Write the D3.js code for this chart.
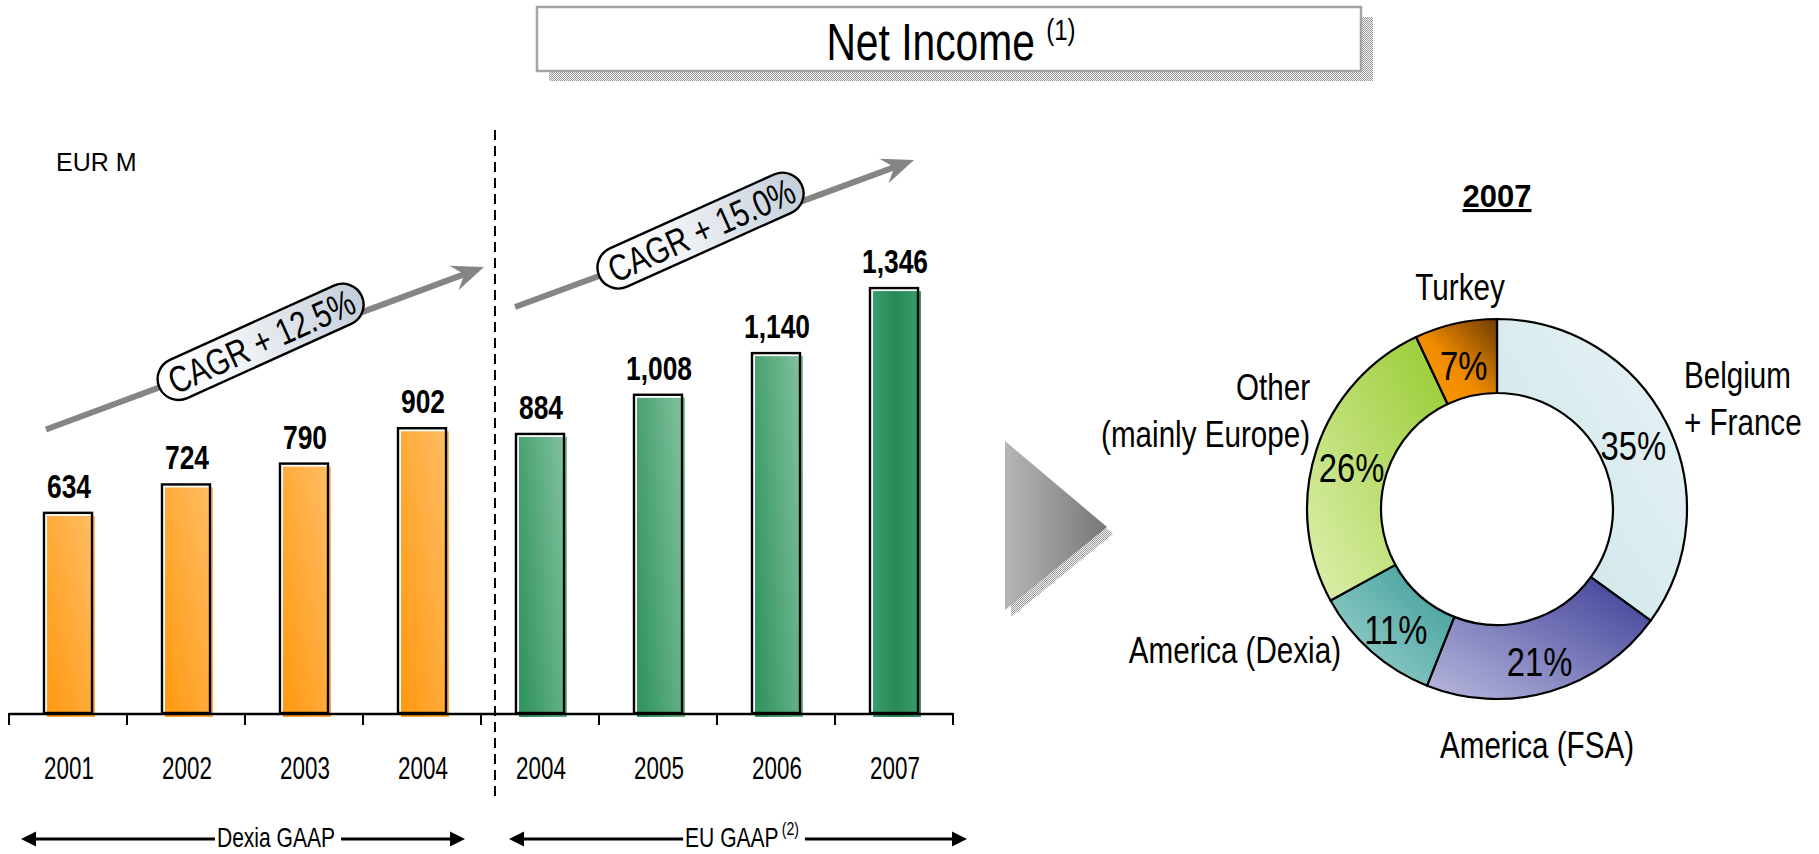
<!DOCTYPE html>
<html>
<head>
<meta charset="utf-8">
<script src="https://cdn.jsdelivr.net/npm/d3@7"></script>
<style>
  html, body { margin: 0; padding: 0; background: #fff; }
  svg { display: block; }
  text { font-family: "Liberation Sans", Arial, sans-serif; fill: #000; }
</style>
</head>
<body>
<svg id="chart" width="1819" height="854"></svg>
<script>
// ---- data ----------------------------------------------------------
const years       = ["2001", "2002", "2003", "2004", "2004", "2005", "2006", "2007"];
const netIncome   = [634, 724, 790, 902, 884, 1008, 1140, 1346];
const gaapBasis   = ["Dexia GAAP", "Dexia GAAP", "Dexia GAAP", "Dexia GAAP",
                     "EU GAAP", "EU GAAP", "EU GAAP", "EU GAAP"];
const basisNames  = ["Dexia GAAP", "EU GAAP"];
const basisNotes  = ["", "(2)"];
const cagrLabels  = ["CAGR + 12.5%", "CAGR + 15.0%"];

const regions      = ["Belgium + France", "America (FSA)", "America (Dexia)", "Other (mainly Europe)", "Turkey"];
const regionLines  = [["Belgium", "+ France"], ["America (FSA)"], ["America (Dexia)"], ["Other", "(mainly Europe)"], ["Turkey"]];
const regionShares = [35, 21, 11, 26, 7];

const titleText = "Net Income";
const titleNote = "(1)";
const unitText  = "EUR M";
const pieTitle  = "2007";

// ---- setup ---------------------------------------------------------
const svg = d3.select("#chart");
const defs = svg.append("defs");
const SX = 0.82;   // default horizontal squeeze giving the condensed face

// condensed text: placed at (x, y) and squeezed horizontally about that point
function ntext(parent, x, y, size, anchor, sx) {
  return parent.append("text")
    .attr("transform", `translate(${x},${y}) scale(${sx || SX},1)`)
    .attr("font-size", size).attr("text-anchor", anchor || "start");
}

function linGrad(id, x1, y1, x2, y2, stops) {
  const g = defs.append("linearGradient").attr("id", id)
    .attr("x1", x1).attr("y1", y1).attr("x2", x2).attr("y2", y2);
  stops.forEach(([o, c]) => g.append("stop").attr("offset", o).attr("stop-color", c));
}

// fine checker used for the hatched drop shadows
const pat = defs.append("pattern").attr("id", "checker")
  .attr("patternUnits", "userSpaceOnUse").attr("width", 2).attr("height", 2);
pat.append("rect").attr("width", 2).attr("height", 2).attr("fill", "#f4f4f4");
pat.append("rect").attr("width", 1).attr("height", 1).attr("fill", "#9a9a9a");
pat.append("rect").attr("x", 1).attr("y", 1).attr("width", 1).attr("height", 1).attr("fill", "#9a9a9a");

linGrad("gOrange", 0, 1, 1, 0, [[0, "#ff9810"], [1, "#ffbe64"]]);
linGrad("gGreen", 0, 0.75, 1, 0.25, [[0, "#33955f"], [1, "#7dbf9a"]]);
linGrad("gGreenDark", 0, 0, 1, 0, [[0, "#36a06c"], [0.45, "#2b8857"], [1, "#36a06c"]]);
linGrad("gPill", 0, 0, 1, 0, [[0, "#ffffff"], [0.35, "#f3f5f8"], [1, "#c4ceda"]]);
linGrad("gTri", 0, 0, 1, 0, [[0, "#b6b6b6"], [1, "#777777"]]);

const sliceGrads = [
  [[0, "#cbe4e8"], [1, "#e8f3f5"]],
  [[0, "#b8b8de"], [1, "#3c3c96"]],
  [[0, "#a4d6d2"], [1, "#389a95"]],
  [[0, "#dff0b0"], [1, "#96ca2e"]],
  [[0, "#ff9a00"], [0.45, "#f08c00"], [1, "#6e3a00"]]
];
sliceGrads.forEach((s, i) => linGrad("gSlice" + i, 0, 1, 1, 0, s));

// ---- title ---------------------------------------------------------
const tb = { x: 537, y: 7, w: 824, h: 64 };
svg.append("rect").attr("x", tb.x + 12).attr("y", tb.y + 10)
  .attr("width", tb.w).attr("height", tb.h).attr("fill", "url(#checker)");
svg.append("rect").attr("x", tb.x).attr("y", tb.y).attr("width", tb.w).attr("height", tb.h)
  .attr("fill", "#fff").attr("stroke", "#a6a6a6").attr("stroke-width", 2.5);
const tt = ntext(svg, tb.x + tb.w / 2 + 2, 60, 51, "middle", 0.8);
tt.append("tspan").text(titleText + " ");
tt.append("tspan").attr("font-size", 30).attr("dy", -20).text(titleNote);

// ---- bar chart -----------------------------------------------------
const x = d3.scaleBand().domain(d3.range(years.length)).range([9, 953])
  .paddingInner(0.593).paddingOuter(0.2965);
const y = d3.scaleLinear().domain([0, 1500]).range([713, 713 - 1500 * 0.3157]);
const baseY = y(0);

svg.append("text").attr("x", 56).attr("y", 171).attr("font-size", 25).text(unitText);

const barFill = i => gaapBasis[i] === basisNames[0] ? "url(#gOrange)"
  : (i === years.length - 1 ? "url(#gGreenDark)" : "url(#gGreen)");

const bars = svg.append("g").selectAll("g").data(netIncome).join("g");
// colour body, set slightly right/down of the outline
bars.append("rect")
  .attr("x", (d, i) => x(i) + 3).attr("y", d => y(d) + 3)
  .attr("width", x.bandwidth()).attr("height", d => baseY - y(d) + 1)
  .attr("fill", (d, i) => barFill(i));
bars.append("rect")
  .attr("x", (d, i) => x(i)).attr("y", d => y(d))
  .attr("width", x.bandwidth()).attr("height", d => baseY - y(d))
  .attr("fill", "none").attr("stroke", "#000").attr("stroke-width", 2.4);
bars.append("text")
  .attr("transform", (d, i) => `translate(${x(i) + x.bandwidth() / 2 + 1},${y(d) - 15}) scale(0.8,1)`)
  .attr("text-anchor", "middle").attr("font-size", 33).attr("font-weight", "bold")
  .text(d => d3.format(",")(d));

// axis: baseline with ticks on category boundaries, year labels centred
const [r0, r1] = x.range();
const axisG = svg.append("g");
axisG.append("line").attr("x1", r0).attr("x2", r1).attr("y1", baseY + 1).attr("y2", baseY + 1)
  .attr("stroke", "#000").attr("stroke-width", 2.5);
axisG.selectAll("line.tick").data(d3.range(years.length + 1)).join("line").attr("class", "tick")
  .attr("x1", i => r0 + i * x.step()).attr("x2", i => r0 + i * x.step())
  .attr("y1", baseY).attr("y2", baseY + 12).attr("stroke", "#000").attr("stroke-width", 2);

const xAxis = d3.axisBottom(x).tickSize(0).tickPadding(0).tickFormat(i => years[i]);
const ax = svg.append("g").attr("transform", `translate(0,${baseY})`).call(xAxis);
ax.select(".domain").remove();
ax.attr("font-family", null).attr("font-size", null);
ax.selectAll("text").attr("font-size", 32).attr("fill", "#000")
  .attr("y", null).attr("dy", null)
  .attr("transform", "translate(1,66) scale(0.7,1)");

// divider between accounting bases
const divX = x(4) - 21;
svg.append("line").attr("x1", divX).attr("x2", divX).attr("y1", 130).attr("y2", 796)
  .attr("stroke", "#000").attr("stroke-width", 2).attr("stroke-dasharray", "10,6");

// ---- arrows --------------------------------------------------------
function arrow(g, x1, y1, x2, y2, o) {
  const a = Math.atan2(y2 - y1, x2 - x1);
  const ux = Math.cos(a), uy = Math.sin(a), px = -uy, py = ux;
  const nx = x2 - ux * o.notch, ny = y2 - uy * o.notch;
  const bx = x2 - ux * o.len, by = y2 - uy * o.len;
  g.append("line").attr("x1", x1).attr("y1", y1).attr("x2", nx + ux).attr("y2", ny + uy)
    .attr("stroke", o.color).attr("stroke-width", o.width);
  g.append("path")
    .attr("d", `M${x2},${y2}L${bx + px * o.half},${by + py * o.half}L${nx},${ny}L${bx - px * o.half},${by - py * o.half}Z`)
    .attr("fill", o.color);
}

// CAGR trend arrows with rounded labels
const trend = [
  { x1: x(0) + 2, v1: 898, x2: divX - 11, v2: 1413, t: 0.49 },
  { x1: x(4) - 1, v1: 1286, x2: x(7) + x.bandwidth() - 4, v2: 1752, t: 0.465 }
];
const grey = { color: "#858585", width: 6, len: 32, half: 13, notch: 21 };
trend.forEach((d, k) => {
  const g = svg.append("g");
  const X1 = d.x1, Y1 = y(d.v1), X2 = d.x2, Y2 = y(d.v2);
  arrow(g, X1, Y1, X2, Y2, grey);
  const cx = X1 + (X2 - X1) * d.t, cy = Y1 + (Y2 - Y1) * d.t - 8;
  const ang = Math.atan2(Y2 - Y1, X2 - X1) * 180 / Math.PI - 4;
  const pg = g.append("g").attr("transform", `translate(${cx},${cy}) rotate(${ang})`);
  const pw = 222, ph = 42;
  pg.append("rect").attr("x", -pw / 2).attr("y", -ph / 2).attr("width", pw).attr("height", ph)
    .attr("rx", ph / 2).attr("fill", "url(#gPill)").attr("stroke", "#000").attr("stroke-width", 2.4);
  ntext(pg, 1, 13, 37, "middle", 0.79).text(cagrLabels[k]);
});

// accounting-basis spans under the axis
const spanY = 839;
const black = { color: "#000", width: 3, len: 15, half: 7.5, notch: 15 };
const spans = [
  { a: r0 + 12, b: x(3) + x.bandwidth() + 19, tx: 276 },
  { a: x(4) - 7, b: r1 + 14, tx: 742 }
];
spans.forEach((s, k) => {
  const g = svg.append("g");
  const sx = 0.78;
  const t = ntext(g, s.tx, spanY + 8, 27, "middle", sx);
  t.append("tspan").text(basisNames[k]);
  if (basisNotes[k]) t.append("tspan").attr("font-size", 18).attr("dy", -12).attr("dx", 4).text(basisNotes[k]);
  const w = t.node().getBBox().width * sx;
  arrow(g, s.tx - w / 2 - 2, spanY, s.a, spanY, black);
  arrow(g, s.tx + w / 2 + 6, spanY, s.b, spanY, black);
});

// ---- connector triangle --------------------------------------------
const tri = [[1005, 441], [1107, 527], [1005, 610]];
svg.append("polygon").attr("points", tri.map(p => [p[0] + 6, p[1] + 7].join(",")).join(" "))
  .attr("fill", "url(#checker)");
svg.append("polygon").attr("points", tri.map(p => p.join(",")).join(" ")).attr("fill", "url(#gTri)");

// ---- donut ---------------------------------------------------------
const pc = { x: 1497, y: 509 };
const pie = d3.pie().sort(null).value(d => d.share);
const arc = d3.arc().innerRadius(116).outerRadius(190);
const slices = pie(regions.map((name, i) => ({ name, share: regionShares[i], lines: regionLines[i], i })));

const dg = svg.append("g").attr("transform", `translate(${pc.x},${pc.y})`);
dg.selectAll("path").data(slices).join("path")
  .attr("d", arc).attr("fill", d => `url(#gSlice${d.data.i})`)
  .attr("stroke", "#000").attr("stroke-width", 2.2).attr("stroke-linejoin", "round");

slices.forEach(d => {
  const [cx, cy] = arc.centroid(d);
  ntext(dg, cx, cy + 20, 41, "middle", 0.8).text(d.data.share + "%");
});

// outer category labels, placed around the ring
const labelPlace = {
  "Belgium + France":      { dx: 187,  dy: -121, anchor: "start" },
  "America (FSA)":         { dx: 40,   dy: 249,  anchor: "middle" },
  "America (Dexia)":       { dx: -156, dy: 154,  anchor: "end" },
  "Other (mainly Europe)": { dx: -187, dy: -109, anchor: "end" },
  "Turkey":                { dx: -37,  dy: -209, anchor: "middle" }
};
slices.forEach(d => {
  const p = labelPlace[d.data.name];
  const t = ntext(dg, p.dx, p.dy, 37, p.anchor, 0.8);
  d.data.lines.forEach((ln, j) => {
    t.append("tspan").attr("x", 0).attr("y", j * 47).text(ln);
  });
});

svg.append("text").attr("x", pc.x).attr("y", 207)
  .attr("text-anchor", "middle").attr("font-size", 31).attr("font-weight", "bold")
  .attr("text-decoration", "underline").text(pieTitle);
</script>
</body>
</html>
